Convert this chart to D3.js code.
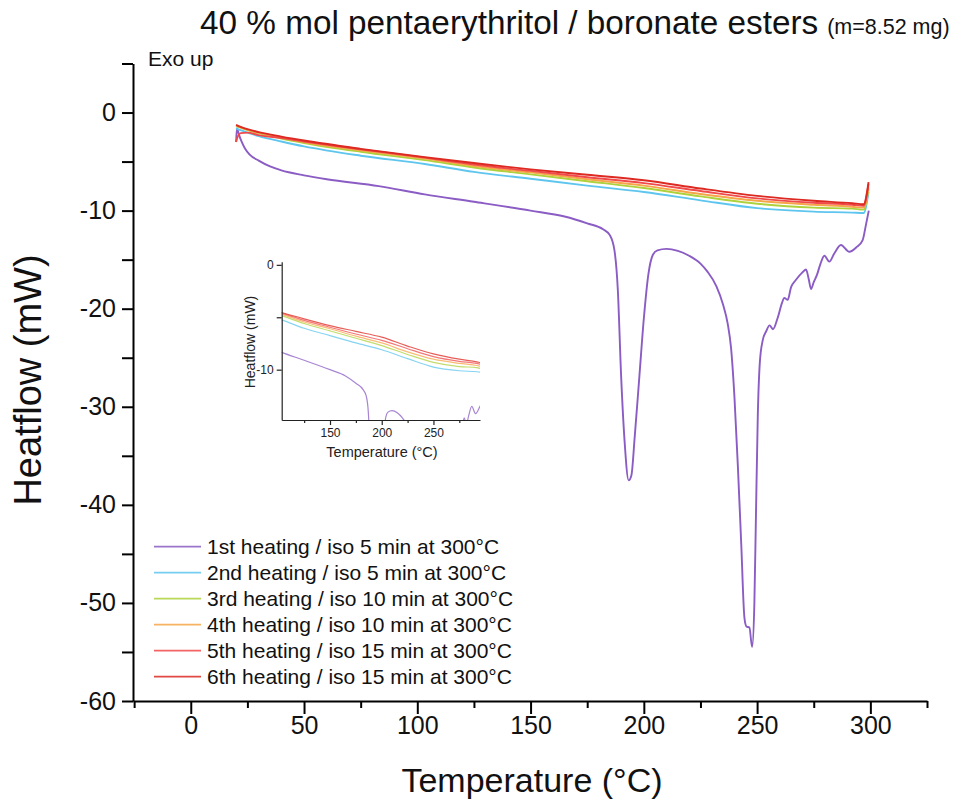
<!DOCTYPE html>
<html><head><meta charset="utf-8">
<script src="https://cdn.jsdelivr.net/npm/d3@7"></script>
<style>
body{margin:0;background:#fff;}
svg{display:block;font-family:"Liberation Sans",Arial,sans-serif;}
</style></head>
<body>
<svg id="chart" width="966" height="802"></svg>
<script>
// ---------- DATA ----------
const seriesNames = [
  "1st heating / iso 5 min at 300°C",
  "2nd heating / iso 5 min at 300°C",
  "3rd heating / iso 10 min at 300°C",
  "4th heating / iso 10 min at 300°C",
  "5th heating / iso 15 min at 300°C",
  "6th heating / iso 15 min at 300°C"
];
const seriesColors = ["#8a5cc4", "#5ec6ee", "#aed23c", "#f6a548", "#f14a4a", "#dc2a22"];

const run1 = [[20,-3.0],[20.4,-1.6],[21.2,-2.2],[22.5,-3.0],[24,-3.7],[26,-4.3],[30,-4.9],[35,-5.5],[40,-5.9],[50,-6.4],[60,-6.8],[83,-7.5],[103.3,-8.35],[125,-9.1],[150,-10.0],[165,-10.6],[175,-11.3],[182,-11.9],[185,-12.5],[187,-14],[188.5,-18],[190,-27],[191.5,-33.5],[193.3,-37.5],[194.5,-37],[196,-33],[198,-27],[200,-21],[202,-16.5],[204,-14.5],[206,-14.05],[210,-13.9],[215,-14.1],[220,-14.6],[225,-15.4],[228,-16.2],[232,-17.7],[235,-19.6],[237,-21.5],[238.5,-24],[240,-29],[241.5,-36],[243,-44],[244.4,-51.5],[245.3,-52.4],[246.6,-52.5],[247.8,-54.5],[248.8,-50],[249.5,-41],[250.3,-31],[251.2,-25.5],[252.5,-23.2],[254,-22.3],[255.5,-21.7],[257,-22.1],[259,-21],[261,-19.4],[262,-18.9],[263.5,-19.1],[265,-17.8],[267,-17.1],[270,-16.3],[271.6,-16.0],[272.8,-17.0],[273.8,-18.0],[275,-17.3],[276.5,-16.5],[278,-15.4],[279.7,-14.6],[281.9,-15.2],[284,-14.4],[287,-13.5],[290.7,-14.2],[294,-13.7],[296.6,-13.0],[298,-11.5],[299.3,-10.0]];
const run2 = [[20,-1.6],[22,-1.8],[25,-2.05],[30,-2.4],[40,-2.95],[50,-3.45],[75,-4.4],[103.3,-5.25],[125,-6.05],[150,-6.75],[175,-7.45],[200,-8.1],[225,-8.95],[250,-9.75],[275,-10.1],[292,-10.2],[297,-10.25],[299.2,-8.1]];
const run3 = [[20,-1.35],[22,-1.55],[25,-1.8],[30,-2.1],[40,-2.65],[50,-3.1],[75,-4.0],[103.3,-4.85],[125,-5.6],[150,-6.3],[175,-7.0],[200,-7.7],[225,-8.55],[250,-9.3],[275,-9.7],[292,-9.8],[297,-9.9],[299.2,-7.8]];
const run4 = [[20,-1.3],[22,-1.5],[25,-1.75],[30,-2.05],[40,-2.55],[50,-3.0],[75,-3.85],[103.3,-4.7],[125,-5.45],[150,-6.1],[175,-6.8],[200,-7.45],[225,-8.3],[250,-9.0],[275,-9.4],[292,-9.6],[297,-9.7],[299.2,-7.6]];
const run5 = [[20,-3.0],[20.8,-2.4],[22,-2.1],[25,-2.05],[30,-2.3],[40,-2.6],[50,-2.95],[75,-3.75],[103.3,-4.6],[125,-5.3],[150,-5.95],[175,-6.6],[200,-7.2],[225,-8.0],[250,-8.75],[275,-9.2],[292,-9.4],[297,-9.5],[299.2,-7.3]];
const run6 = [[20,-1.25],[22,-1.45],[25,-1.7],[30,-2.0],[40,-2.45],[50,-2.85],[75,-3.7],[103.3,-4.55],[125,-5.15],[150,-5.8],[175,-6.35],[200,-6.9],[225,-7.75],[250,-8.5],[275,-9.0],[292,-9.25],[297,-9.35],[299.2,-7.1]];
const allRuns = [run1, run2, run3, run4, run5, run6];

const xMajorTicks = [0, 50, 100, 150, 200, 250, 300];
const xMinorTicks = [-25, 25, 75, 125, 175, 225, 275, 325];
const yTicks = [-60, -55, -50, -45, -40, -35, -30, -25, -20, -15, -10, -5, 0, 5];
const insetXMajor = [150, 200, 250];
const insetXMinor = [125, 175, 225, 275];
const insetYTicks = [-10, -5, 0];

const titleMain = "40 % mol pentaerythritol / boronate esters";
const titleSub = "(m=8.52 mg)";

// ---------- CHART ----------
const svg = d3.select("#chart");
const x = d3.scaleLinear().domain([-25.5, 325]).range([133, 927]);
const y = d3.scaleLinear().domain([-60, 5]).range([701, 63.5]);

const line = d3.line().x(d => x(d[0])).y(d => y(d[1])).curve(d3.curveMonotoneX);

// axes
const yAxis = d3.axisLeft(y).tickValues(yTicks).tickSize(11).tickSizeOuter(0).tickPadding(6)
  .tickFormat(d => (d % 10 === 0 ? String(d) : ""));
const gy = svg.append("g").attr("transform", `translate(${x.range()[0]},0)`).call(yAxis);
const xAxisMaj = d3.axisBottom(x).tickValues(xMajorTicks).tickSize(13).tickSizeOuter(0).tickPadding(2)
  .tickFormat(d => String(d));
const gx = svg.append("g").attr("transform", `translate(0,${y.range()[0]})`).call(xAxisMaj);
const xAxisMin = d3.axisBottom(x).tickValues(xMinorTicks.filter(v => v >= x.domain()[0] && v <= x.domain()[1]))
  .tickSize(7).tickSizeOuter(0).tickFormat("");
const gx2 = svg.append("g").attr("transform", `translate(0,${y.range()[0]})`).call(xAxisMin);
gx2.select(".domain").remove();
[gy, gx, gx2].forEach(g => {
  g.selectAll(".domain").attr("stroke", "#000").attr("stroke-width", 2);
  g.selectAll(".tick line").attr("stroke", "#000").attr("stroke-width", 2);
  g.selectAll(".tick text").attr("font-size", 25).attr("fill", "#111")
    .attr("font-family", '"Liberation Sans",Arial,sans-serif');
});

// curves
svg.append("g").selectAll("path").data(allRuns).join("path")
  .attr("d", line).attr("fill", "none")
  .attr("stroke", (d, i) => seriesColors[i]).attr("stroke-width", 1.9)
  .attr("stroke-linejoin", "round");

// titles
const t = svg.append("text").attr("x", 200).attr("y", 34).attr("fill", "#111");
t.append("tspan").attr("font-size", 33.3).text(titleMain);
t.append("tspan").attr("font-size", 21.5).attr("dx", 9).text(titleSub);

svg.append("text").attr("x", 148).attr("y", 66).attr("font-size", 21).attr("fill", "#111").text("Exo up");

svg.append("text").attr("x", 532).attr("y", 792).attr("text-anchor", "middle")
  .attr("font-size", 34).attr("fill", "#111").text("Temperature (°C)");
svg.append("text").attr("transform", "translate(41,380) rotate(-90)").attr("text-anchor", "middle")
  .attr("font-size", 38).attr("fill", "#111").text("Heatflow (mW)");

// legend
const leg = svg.append("g");
seriesNames.forEach((name, i) => {
  const yy = 546.7 + i * 26;
  leg.append("line").attr("x1", 154).attr("x2", 201).attr("y1", yy).attr("y2", yy)
    .attr("stroke", seriesColors[i]).attr("stroke-width", 1.8).attr("opacity", 0.85);
  leg.append("text").attr("x", 207).attr("y", yy + 7.5).attr("font-size", 21).attr("fill", "#111").text(name);
});

// ---------- INSET ----------
const xi = d3.scaleLinear().domain([103.3, 295]).range([281.7, 480]);
const yi = d3.scaleLinear().domain([-14.8, 0.3]).range([420, 261.7]);
svg.append("clipPath").attr("id", "insetClip").append("rect")
  .attr("x", xi.range()[0]).attr("y", yi.range()[1])
  .attr("width", xi.range()[1] - xi.range()[0]).attr("height", yi.range()[0] - yi.range()[1]);
const lineI = d3.line().x(d => xi(d[0])).y(d => yi(d[1])).curve(d3.curveMonotoneX);
svg.append("g").attr("clip-path", "url(#insetClip)").selectAll("path").data(allRuns).join("path")
  .attr("d", lineI).attr("fill", "none")
  .attr("stroke", (d, i) => seriesColors[i]).attr("stroke-width", 1.2).attr("opacity", 0.75);

const giy = svg.append("g").attr("transform", `translate(${xi.range()[0]},0)`)
  .call(d3.axisLeft(yi).tickValues(insetYTicks).tickSize(5).tickSizeOuter(0).tickPadding(3)
    .tickFormat(d => (d % 10 === 0 ? String(d) : "")));
const gix = svg.append("g").attr("transform", `translate(0,${yi.range()[0]})`)
  .call(d3.axisBottom(xi).tickValues(insetXMajor).tickSize(5).tickSizeOuter(0).tickPadding(3)
    .tickFormat(d => String(d)));
const gix2 = svg.append("g").attr("transform", `translate(0,${yi.range()[0]})`)
  .call(d3.axisBottom(xi).tickValues(insetXMinor).tickSize(3).tickSizeOuter(0).tickFormat(""));
gix2.select(".domain").remove();
[giy, gix, gix2].forEach(g => {
  g.selectAll(".domain").attr("stroke", "#222").attr("stroke-width", 1.2);
  g.selectAll(".tick line").attr("stroke", "#222").attr("stroke-width", 1.2);
  g.selectAll(".tick text").attr("font-size", 12).attr("fill", "#222")
    .attr("font-family", '"Liberation Sans",Arial,sans-serif');
});
svg.append("text").attr("x", 382).attr("y", 457).attr("text-anchor", "middle")
  .attr("font-size", 14.5).attr("fill", "#222").text("Temperature (°C)");
svg.append("text").attr("transform", "translate(255,342) rotate(-90)").attr("text-anchor", "middle")
  .attr("font-size", 14).attr("fill", "#222").text("Heatflow (mW)");
</script>
</body></html>
